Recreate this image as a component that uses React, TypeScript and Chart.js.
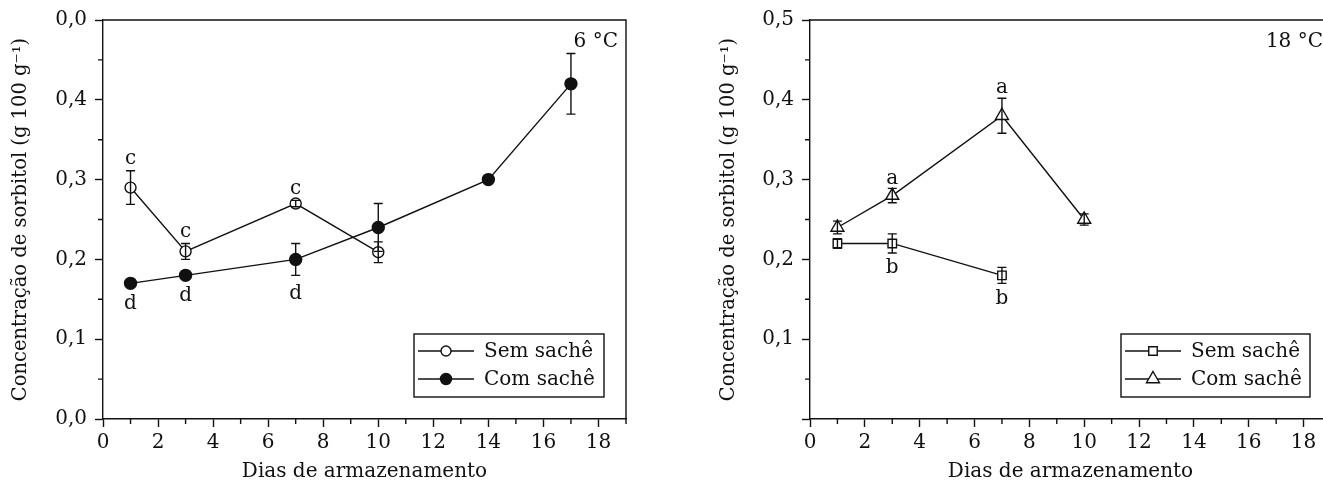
import React, { useEffect, useRef } from 'react';
import { Chart, registerables } from 'chart.js';

Chart.register(...registerables);

// ---------- data: 6 °C ----------
const days6Sem = [1, 3, 7, 10];
const sorbitol6Sem = [0.29, 0.21, 0.27, 0.209];
const err6Sem = [0.021, 0.01, 0.004, 0.013];
const letters6Sem = ['c', 'c', 'c', ''];

const days6Com = [1, 3, 7, 10, 14, 17];
const sorbitol6Com = [0.17, 0.18, 0.2, 0.24, 0.3, 0.42];
const err6Com = [0.003, 0.003, 0.02, 0.03, 0.003, 0.038];
const letters6Com = ['d', 'd', 'd', '', '', ''];

// ---------- data: 18 °C ----------
const days18Sem = [1, 3, 7];
const sorbitol18Sem = [0.22, 0.22, 0.18];
const err18Sem = [0.006, 0.012, 0.01];
const letters18Sem = ['', 'b', 'b'];

const days18Com = [1, 3, 7, 10];
const sorbitol18Com = [0.24, 0.28, 0.38, 0.25];
const err18Com = [0.008, 0.009, 0.022, 0.007];
const letters18Com = ['', 'a', 'a', ''];

// ---------- tick labels ----------
const yTickLabels6 = ['0,0', '0,1', '0,2', '0,3', '0,4', '0,0'];
const yTickLabels18 = ['', '0,1', '0,2', '0,3', '0,4', '0,5'];
const xTickLabels = ['0', '2', '4', '6', '8', '10', '12', '14', '16', '18'];

const seriesNames = ['Sem sachê', 'Com sachê'];
const yTitle = 'Concentração de sorbitol (g 100 g⁻¹)';
const xTitle = 'Dias de armazenamento';

const FONT_FAMILY = '"DejaVu Serif", serif';
const FONT_SIZE = 20;
const INK = '#111111';

type SeriesCfg = {
  days: number[];
  values: number[];
  errors: number[];
  letters: string[];
  letterPos: 'above' | 'below';
  letterGap: number;
  style: 'circle' | 'rect' | 'triangle';
  filled: boolean;
  radius: number;
};

type PanelCfg = {
  series: SeriesCfg[];
  yLabels: string[];
  temp: string;
  yWidth: number;
  padRight: number;
  titlePad: number;
  legendBox: { x: number; y: number; w: number; h: number };
};

function drawMarker(ctx: CanvasRenderingContext2D, style: string, x: number, y: number, r: number, filled: boolean) {
  ctx.save();
  ctx.beginPath();
  if (style === 'circle') {
    ctx.arc(x, y, r, 0, Math.PI * 2);
  } else if (style === 'rect') {
    const s = Math.SQRT1_2 * r;
    ctx.rect(x - s, y - s, 2 * s, 2 * s);
  } else {
    ctx.moveTo(x, y - r);
    ctx.lineTo(x + r * Math.sin(Math.PI / 3), y + r * 0.5);
    ctx.lineTo(x - r * Math.sin(Math.PI / 3), y + r * 0.5);
    ctx.closePath();
  }
  ctx.fillStyle = filled ? INK : '#ffffff';
  ctx.fill();
  ctx.lineWidth = 1.4;
  ctx.strokeStyle = INK;
  ctx.stroke();
  ctx.restore();
}

function makePlugin(cfg: PanelCfg) {
  return {
    id: 'decor',
    afterDatasetsDraw(chart: any) {
      const ctx: CanvasRenderingContext2D = chart.ctx;
      const xs = chart.scales.x;
      const ys = chart.scales.y;
      ctx.save();
      ctx.strokeStyle = INK;
      ctx.lineWidth = 1.4;
      cfg.series.forEach((s) => {
        s.days.forEach((d, i) => {
          const e = s.errors[i];
          const px = xs.getPixelForValue(d);
          const top = ys.getPixelForValue(s.values[i] + e);
          const bot = ys.getPixelForValue(s.values[i] - e);
          ctx.beginPath();
          ctx.moveTo(px, top);
          ctx.lineTo(px, bot);
          ctx.moveTo(px - 4.5, top);
          ctx.lineTo(px + 4.5, top);
          ctx.moveTo(px - 4.5, bot);
          ctx.lineTo(px + 4.5, bot);
          ctx.stroke();
        });
      });
      ctx.restore();
    },
    afterDraw(chart: any) {
      const ctx: CanvasRenderingContext2D = chart.ctx;
      const xs = chart.scales.x;
      const ys = chart.scales.y;
      const a = chart.chartArea;
      ctx.save();
      ctx.strokeStyle = INK;
      ctx.lineWidth = 1.4;
      // frame top/right
      ctx.beginPath();
      ctx.moveTo(a.left, a.top);
      ctx.lineTo(a.right, a.top);
      ctx.lineTo(a.right, a.bottom);
      ctx.stroke();
      // minor ticks
      ctx.beginPath();
      xs.ticks.forEach((t: any, i: number) => {
        if (i % 2 === 1) {
          const p = xs.getPixelForTick(i);
          ctx.moveTo(p, a.bottom);
          ctx.lineTo(p, a.bottom + 5);
        }
      });
      ys.ticks.forEach((t: any, i: number) => {
        if (i % 2 === 1) {
          const p = ys.getPixelForTick(i);
          ctx.moveTo(a.left, p);
          ctx.lineTo(a.left - 5, p);
        }
      });
      ctx.stroke();
      // letters
      ctx.fillStyle = INK;
      ctx.font = `${FONT_SIZE}px ${FONT_FAMILY}`;
      ctx.textAlign = 'center';
      ctx.textBaseline = 'middle';
      cfg.series.forEach((s) => {
        s.days.forEach((d, i) => {
          const l = s.letters[i];
          if (!l) return;
          const px = xs.getPixelForValue(d);
          if (s.letterPos === 'above') {
            const py = ys.getPixelForValue(s.values[i] + s.errors[i]) - s.letterGap;
            ctx.fillText(l, px, py);
          } else {
            const py = ys.getPixelForValue(s.values[i] - s.errors[i]) + s.letterGap;
            ctx.fillText(l, px, py);
          }
        });
      });
      // temperature
      ctx.textAlign = 'right';
      ctx.fillText(cfg.temp, a.right - 8, a.top + 22);
      // legend
      const b = cfg.legendBox;
      ctx.strokeRect(b.x, b.y, b.w, b.h);
      ctx.textAlign = 'left';
      cfg.series.forEach((s, i) => {
        const ry = b.y + 17 + i * 28;
        ctx.beginPath();
        ctx.moveTo(b.x + 4, ry);
        ctx.lineTo(b.x + 60, ry);
        ctx.stroke();
        drawMarker(ctx, s.style, b.x + 32, ry, s.style === 'triangle' ? 7.5 : s.radius - (s.style === 'circle' ? 0.5 : 0), s.filled);
        ctx.fillStyle = INK;
        ctx.fillText(seriesNames[i], b.x + 70, ry + 1);
      });
      ctx.restore();
    },
  };
}

function Panel({ left, width, cfg }: { left: number; width: number; cfg: PanelCfg }) {
  const ref = useRef<HTMLCanvasElement>(null);
  useEffect(() => {
    const font = { family: FONT_FAMILY, size: FONT_SIZE };
    const chart = new Chart(ref.current as HTMLCanvasElement, {
      type: 'line',
      data: {
        datasets: cfg.series.map((s, k) => ({
          label: seriesNames[k],
          data: s.days.map((d, i) => ({ x: d, y: s.values[i] })),
          borderColor: INK,
          borderWidth: 1.4,
          pointStyle: s.style,
          pointRadius: s.radius,
          pointBorderWidth: 1.4,
          pointBorderColor: INK,
          pointBackgroundColor: s.filled ? INK : '#ffffff',
          tension: 0,
          fill: false,
        })),
      },
      options: {
        animation: false,
        responsive: false,
        events: [],
        layout: { padding: { left: 0, top: 20, right: cfg.padRight, bottom: 0 } },
        plugins: { legend: { display: false }, tooltip: { enabled: false } },
        scales: {
          x: {
            type: 'linear',
            min: 0,
            max: 19,
            ticks: {
              stepSize: 1,
              autoSkip: false,
              maxRotation: 0,
              font,
              color: INK,
              padding: 4,
              callback: (v: any, i: number) => (i % 2 === 0 ? xTickLabels[i / 2] ?? '' : ''),
            },
            grid: {
              drawOnChartArea: false,
              drawTicks: true,
              tickLength: 8,
              tickWidth: 1.4,
              tickColor: (c: any) => (c.index % 2 === 0 ? INK : 'rgba(0,0,0,0)'),
            },
            border: { color: INK, width: 1.4 },
            title: { display: true, text: xTitle, font, color: INK, padding: { top: 0, bottom: -3 } },
            afterFit: (s: any) => {
              s.height = 62;
            },
          },
          y: {
            type: 'linear',
            min: 0,
            max: 0.5,
            ticks: {
              stepSize: 0.05,
              autoSkip: false,
              font,
              color: INK,
              padding: 8,
              callback: (v: any, i: number) => (i % 2 === 0 ? cfg.yLabels[i / 2] ?? '' : ''),
            },
            grid: {
              drawOnChartArea: false,
              drawTicks: true,
              tickLength: 8,
              tickWidth: 1.4,
              tickColor: (c: any) => (c.index % 2 === 0 ? INK : 'rgba(0,0,0,0)'),
            },
            border: { color: INK, width: 1.4 },
            title: {
              display: true,
              text: yTitle,
              font: { family: FONT_FAMILY, size: 19.5 },
              color: INK,
              padding: { top: cfg.titlePad, bottom: 0 },
            },
            afterFit: (s: any) => {
              s.width = cfg.yWidth;
            },
          },
        },
      },
      plugins: [makePlugin(cfg) as any],
    });
    return () => chart.destroy();
  }, []);
  return <canvas ref={ref} width={width} height={481} style={{ position: 'absolute', left, top: 0 }} />;
}

const panel6: PanelCfg = {
  series: [
    { days: days6Sem, values: sorbitol6Sem, errors: err6Sem, letters: letters6Sem, letterPos: 'above', letterGap: 12, style: 'circle', filled: false, radius: 5.5 },
    { days: days6Com, values: sorbitol6Com, errors: err6Com, letters: letters6Com, letterPos: 'below', letterGap: 18, style: 'circle', filled: true, radius: 6 },
  ],
  yLabels: yTickLabels6,
  temp: '6 °C',
  yWidth: 103,
  padRight: 34,
  titlePad: 9,
  legendBox: { x: 414, y: 334, w: 190, h: 63 },
};

const panel18: PanelCfg = {
  series: [
    { days: days18Sem, values: sorbitol18Sem, errors: err18Sem, letters: letters18Sem, letterPos: 'below', letterGap: 15, style: 'rect', filled: false, radius: 6 },
    { days: days18Com, values: sorbitol18Com, errors: err18Com, letters: letters18Com, letterPos: 'above', letterGap: 10, style: 'triangle', filled: false, radius: 7.5 },
  ],
  yLabels: yTickLabels18,
  temp: '18 °C',
  yWidth: 110,
  padRight: 9,
  titlePad: 17,
  legendBox: { x: 421, y: 334, w: 189, h: 63 },
};

export default function App() {
  return (
    <div style={{ position: 'absolute', left: 0, top: 0, width: 1323, height: 481, overflow: 'hidden', background: '#fff' }}>
      <Panel left={0} width={660} cfg={panel6} />
      <Panel left={700} width={640} cfg={panel18} />
    </div>
  );
}
